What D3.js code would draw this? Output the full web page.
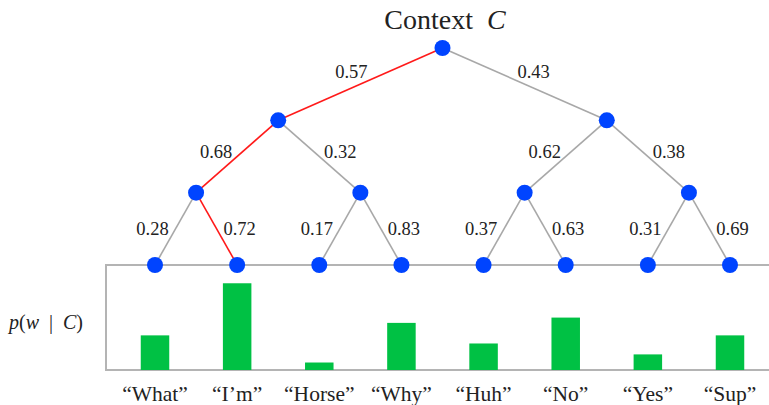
<!DOCTYPE html>
<html>
<head>
<meta charset="utf-8">
<script src="https://cdn.jsdelivr.net/npm/d3@7"></script>
</head>
<body style="margin:0; background:#fff">
<div id="chart"></div>
<script>
// Data
const words = ['What', 'I\u2019m', 'Horse', 'Why', 'Huh', 'No', 'Yes', 'Sup']
const wordProbs = [0.111, 0.278, 0.024, 0.151, 0.085, 0.168, 0.05, 0.111]
const level1Probs = [0.57, 0.43]
const level2Probs = [0.68, 0.32, 0.62, 0.38]
const level3Probs = [0.28, 0.72, 0.17, 0.83, 0.37, 0.63, 0.31, 0.69]
const chosenPath = [0, 0, 1]   // left, left, right -> "I'm"

const width = 769
const height = 405

const svg = d3.select('#chart')
    .append('svg')
    .attr('width', width)
    .attr('height', height)
    .style('font-family', '"Liberation Serif"')

// build the binary tree from the level arrays
const levels = [level1Probs, level2Probs, level3Probs]
function build(depth, idx) {
    const node = { depth, idx }
    if (depth < 3) {
        node.children = [0, 1].map(k => {
            const c = build(depth + 1, idx * 2 + k)
            c.prob = levels[depth][idx * 2 + k]
            c.side = k
            return c
        })
    }
    return node
}
const root = d3.hierarchy(build(0, 0))

// scales
const leafX = d3.scaleLinear().domain([0, words.length - 1]).range([155, 730])
const depthY = d3.scaleLinear().domain([0, 3]).range([48, 265])
const barY = d3.scaleLinear().domain([0, 0.3]).range([370, 276.4])
const barW = 28.5

root.eachAfter(n => {
    if (!n.children) n.x = leafX(n.data.idx)
    else n.x = d3.mean(n.children, c => c.x)
    n.y = depthY(n.data.depth)
})

// highlighted path
const onPath = new Set()
let cur = root
onPath.add(cur)
chosenPath.forEach(k => { cur = cur.children[k]; onPath.add(cur) })

// bar box
svg.append('path')
    .attr('d', `M${width + 5},${depthY(3)} H106 V370 H${width + 5}`)
    .attr('fill', 'none')
    .attr('stroke', '#b4b4b4')
    .attr('stroke-width', 2)

// bars
svg.append('g').selectAll('rect')
    .data(wordProbs)
    .join('rect')
    .attr('x', (d, i) => leafX(i) - barW / 2)
    .attr('y', d => barY(d))
    .attr('width', barW)
    .attr('height', d => barY(0) - barY(d))
    .attr('fill', '#00c144')

// edges
const links = root.links()
svg.append('g').selectAll('line')
    .data(links)
    .join('line')
    .attr('x1', d => d.source.x)
    .attr('y1', d => d.source.y)
    .attr('x2', d => d.target.x)
    .attr('y2', d => d.target.y)
    .attr('stroke', d => onPath.has(d.target) ? '#ff1a1a' : '#a8a8a8')
    .attr('stroke-width', 1.6)

// edge labels
const offX = [0, 9, 21, 23]
const offY = [0, -12, -5, 0]
svg.append('g').selectAll('text')
    .data(links)
    .join('text')
    .attr('x', d => (d.source.x + d.target.x) / 2 + (d.target.data.side ? 1 : -1) * offX[d.target.depth])
    .attr('y', d => (d.source.y + d.target.y) / 2 + offY[d.target.depth])
    .attr('text-anchor', 'middle')
    .attr('dominant-baseline', 'central')
    .attr('font-size', 18.5)
    .attr('fill', '#222')
    .text(d => d.target.data.prob.toFixed(2))

// nodes
svg.append('g').selectAll('circle')
    .data(root.descendants())
    .join('circle')
    .attr('cx', d => d.x)
    .attr('cy', d => d.y)
    .attr('r', 8)
    .attr('fill', '#0044ff')

// word labels
svg.append('g').selectAll('text')
    .data(words)
    .join('text')
    .attr('x', (d, i) => leafX(i))
    .attr('y', 394)
    .attr('text-anchor', 'middle')
    .attr('dominant-baseline', 'central')
    .attr('font-size', 21.5)
    .attr('fill', '#222')
    .text(d => `\u201c${d}\u201d`)

// title
const title = svg.append('text')
    .attr('x', 445)
    .attr('y', 29)
    .attr('text-anchor', 'middle')
    .attr('font-size', 28)
    .attr('fill', '#222')
title.append('tspan').text('Context\u2002')
title.append('tspan').attr('font-style', 'italic').text('C')

// y label
const yl = svg.append('text')
    .attr('x', 46)
    .attr('y', 322)
    .attr('text-anchor', 'middle')
    .attr('dominant-baseline', 'central')
    .attr('font-size', 20)
    .attr('fill', '#222')
yl.append('tspan').attr('font-style', 'italic').text('p')
yl.append('tspan').text('(')
yl.append('tspan').attr('font-style', 'italic').text('w')
yl.append('tspan').text('\u2002|\u2002')
yl.append('tspan').attr('font-style', 'italic').text('C')
yl.append('tspan').text(')')
</script>
</body>
</html>
